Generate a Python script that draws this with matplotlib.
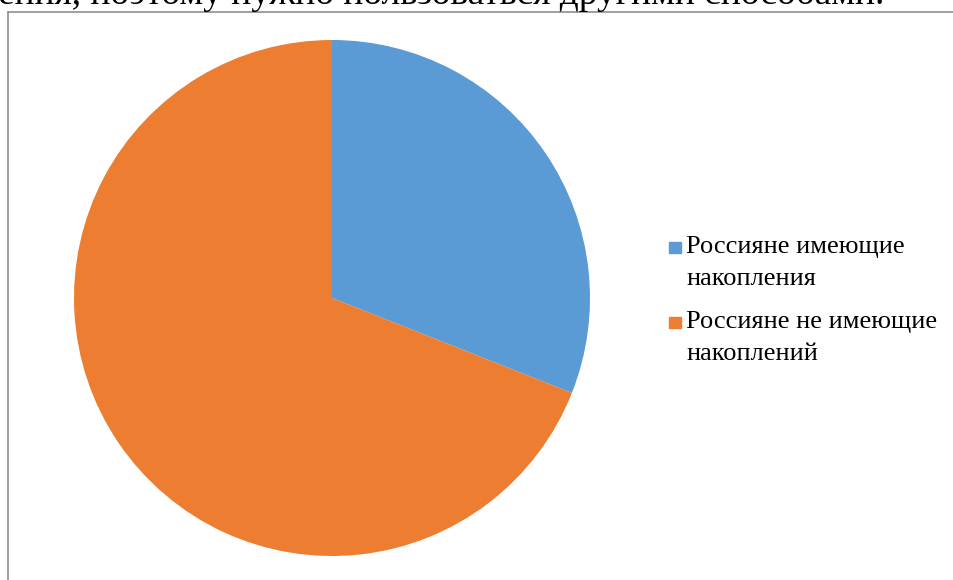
import matplotlib.pyplot as plt
from matplotlib.lines import Line2D
from matplotlib.patches import Rectangle

labels = ['Россияне имеющие\nнакопления', 'Россияне не имеющие\nнакоплений']
values = [31, 69]
colors = ['#5B9BD5', '#ED7D31']
header = 'ения, поэтому нужно пользоваться другими способами.'

W, H = 954, 580
fig = plt.figure(figsize=(W / 100, H / 100), dpi=100)

# clipped text line above the chart frame
fig.text(-2 / W, 1 - 4 / H, header, fontsize=27, family='Liberation Serif',
         va='baseline', ha='left')

# chart frame (only left/top edges are visible)
fig.add_artist(Line2D([8.5 / W, 8.5 / W], [0, 1 - 11.5 / H], color='#8f8f8f', lw=1.2))
fig.add_artist(Line2D([8.5 / W, 1], [1 - 11.5 / H, 1 - 11.5 / H], color='#8f8f8f', lw=1.2))

cx, cy, r = 332, 298, 258
ax = fig.add_axes([(cx - r) / W, 1 - (cy + r) / H, 2 * r / W, 2 * r / H])
ax.pie(values, colors=colors, startangle=90, counterclock=False, radius=1)
ax.set_xlim(-1, 1)
ax.set_ylim(-1, 1)
ax.set_aspect('equal')
ax.axis('off')

# legend
baselines = [253, 328]
for lab, col, y in zip(labels, colors, baselines):
    fig.add_artist(Rectangle((669 / W, 1 - y / H), 12 / W, 11 / H,
                             color=col, transform=fig.transFigure))
    fig.text(686 / W, 1 - y / H, lab.split('\n')[0], fontsize=19, family='Liberation Serif',
             va='baseline', ha='left')
    fig.text(686 / W, 1 - (y + 32) / H, lab.split('\n')[1], fontsize=19, family='Liberation Serif',
             va='baseline', ha='left')

fig.savefig('out.png', dpi=100)
